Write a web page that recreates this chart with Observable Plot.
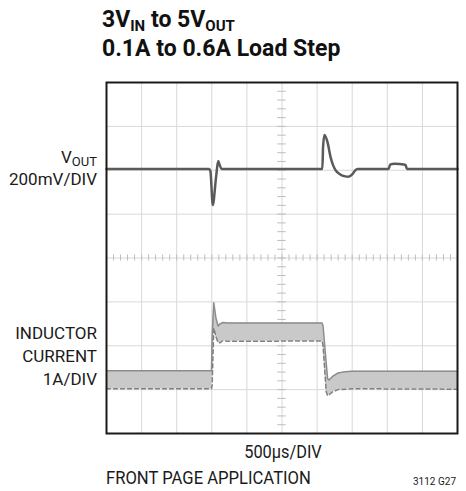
<!DOCTYPE html>
<html>
<head>
<meta charset="utf-8">
<script src="https://cdn.jsdelivr.net/npm/d3@7"></script>
<script src="https://cdn.jsdelivr.net/npm/@observablehq/plot@0.6"></script>
<style>
  html, body { margin: 0; padding: 0; background: #fff; }
  #page { position: relative; width: 466px; height: 491px; overflow: hidden;
          font-family: "Liberation Sans Narrow", "Arial Narrow", "Roboto", sans-serif; color: #1a1a1a; }
  .abs { position: absolute; white-space: nowrap; z-index: 2; }
  .title { left: 102px; font-weight: bold; font-size: 23px; line-height: 23px; color: #111; }
  .title sub { font-size: 15px; vertical-align: -4px; line-height: 0; }
  .lab { right: 369px; text-align: right; font-size: 17px; line-height: 23px; }
  .lab sub { font-size: 13px; vertical-align: -3px; line-height: 0; }
  #chart { position: absolute; left: 0; top: 72px; z-index: 1; }
</style>
</head>
<body>
<div id="page">
  <div id="chart"></div>
  <div class="abs title" style="top:8px">3V<sub>IN</sub> to 5V<sub>OUT</sub></div>
  <div class="abs title" style="top:37px">0.1A to 0.6A Load Step</div>
  <div class="abs lab" style="top:146px">V<sub>OUT</sub></div>
  <div class="abs lab" style="top:168px">200mV/DIV</div>
  <div class="abs lab" style="top:322px">INDUCTOR<br>CURRENT<br>1A/DIV</div>
  <div class="abs" style="left:0;width:566px;text-align:center;top:440px;font-size:19px;line-height:23px;transform:scaleX(0.86);transform-origin:283px 0">500µs/DIV</div>
  <div class="abs" style="left:106px;top:466px;font-size:19px;line-height:23px;transform:scaleX(0.875);transform-origin:0 0">FRONT PAGE APPLICATION</div>
  <div class="abs" style="right:10px;top:475px;font-size:10px;line-height:13px">3112 G27</div>
</div>
<script>
// ---- Data (time in µs, 500µs/DIV; Vout deviation in mV, 200mV/DIV; inductor current in A, 1A/DIV)
const voutTime = [0, 1460, 1480, 1514, 1560, 1591, 1610, 1640, 3075, 3085, 3105, 3150, 3191, 3230, 3262, 3330, 3400, 3447, 3500, 3540, 3575, 4020, 4040, 4100, 4180, 4260, 4280, 5000];
const voutMv   = [0,    0,  -10, -164,  -40,   36,   20,    0,    0,  100,  155,  120,   55,   15,   -5,  -25,  -34,  -36,  -25,   -8,    0,    0,   20,   24,   22,   18,    0,    0];

const curTime  = [0,    1495, 1505, 1528, 1560, 1590, 1620, 1660, 1720, 3070, 3085, 3130, 3150, 3170, 3220, 3300, 3400, 3500, 5000];
const curUpper = [0.43, 0.43, 1.20, 1.98, 1.62, 1.45, 1.50, 1.53, 1.52, 1.52, 1.45, 0.60, 0.25, 0.22, 0.30, 0.38, 0.41, 0.42, 0.42];
const curLower = [0.02, 0.02, 0.10, 1.40, 1.20, 1.07, 1.07, 1.12, 1.10, 1.11, 1.00, -0.05, -0.14, -0.12, -0.05, 0.00, 0.01, 0.02, 0.01];

// screen placement of each trace (in divisions from centre)
const VOUT_REF_DIV = 2.03;   // Vout trace reference level
const CUR_ZERO_DIV = -3.0;   // current trace zero level
const MV_PER_DIV = 200, A_PER_DIV = 1;

const vout = voutTime.map((t, i) => ({t, y: VOUT_REF_DIV + voutMv[i] / MV_PER_DIV}));
const cur = curTime.map((t, i) => ({t, hi: CUR_ZERO_DIV + curUpper[i] / A_PER_DIV, lo: CUR_ZERO_DIV + curLower[i] / A_PER_DIV}));

const xGrid = d3.range(0, 5001, 500);
const yGrid = d3.range(-4, 4.01, 1);
const xMinor = d3.range(0, 5001, 100);
const yMinor = d3.range(-4, 4.01, 0.2);

const chart = Plot.plot({
  width: 466, height: 370,
  marginLeft: 106, marginRight: 9, marginTop: 10, marginBottom: 9,
  x: {domain: [0, 5000], axis: null},
  y: {domain: [-4, 4], axis: null},
  style: {background: "transparent", overflow: "visible"},
  marks: [
    Plot.ruleX(xGrid, {stroke: "#d8d8d8", strokeWidth: 1}),
    Plot.ruleY(yGrid, {stroke: "#d8d8d8", strokeWidth: 1}),
    Plot.ruleX(xMinor, {y1: -0.07, y2: 0.07, stroke: "#bdbdbd", strokeWidth: 1}),
    Plot.ruleY(yMinor, {x1: 2440, x2: 2560, stroke: "#bdbdbd", strokeWidth: 1}),
    Plot.areaY(cur, {x: "t", y1: "lo", y2: "hi", fill: "#c9c9c9", curve: "linear"}),
    Plot.lineY(cur, {x: "t", y: "hi", stroke: "#8c8c8c", strokeWidth: 1.5}),
    Plot.lineY(cur, {x: "t", y: "lo", stroke: "#808080", strokeWidth: 1.5, strokeDasharray: "4,3"}),
    Plot.lineY(vout, {x: "t", y: "y", stroke: "#5a5a5a", strokeWidth: 2.5, curve: "monotone-x"}),
    Plot.frame({stroke: "#1a1a1a", strokeWidth: 2})
  ]
});
document.getElementById("chart").appendChild(chart);
</script>
</body>
</html>
